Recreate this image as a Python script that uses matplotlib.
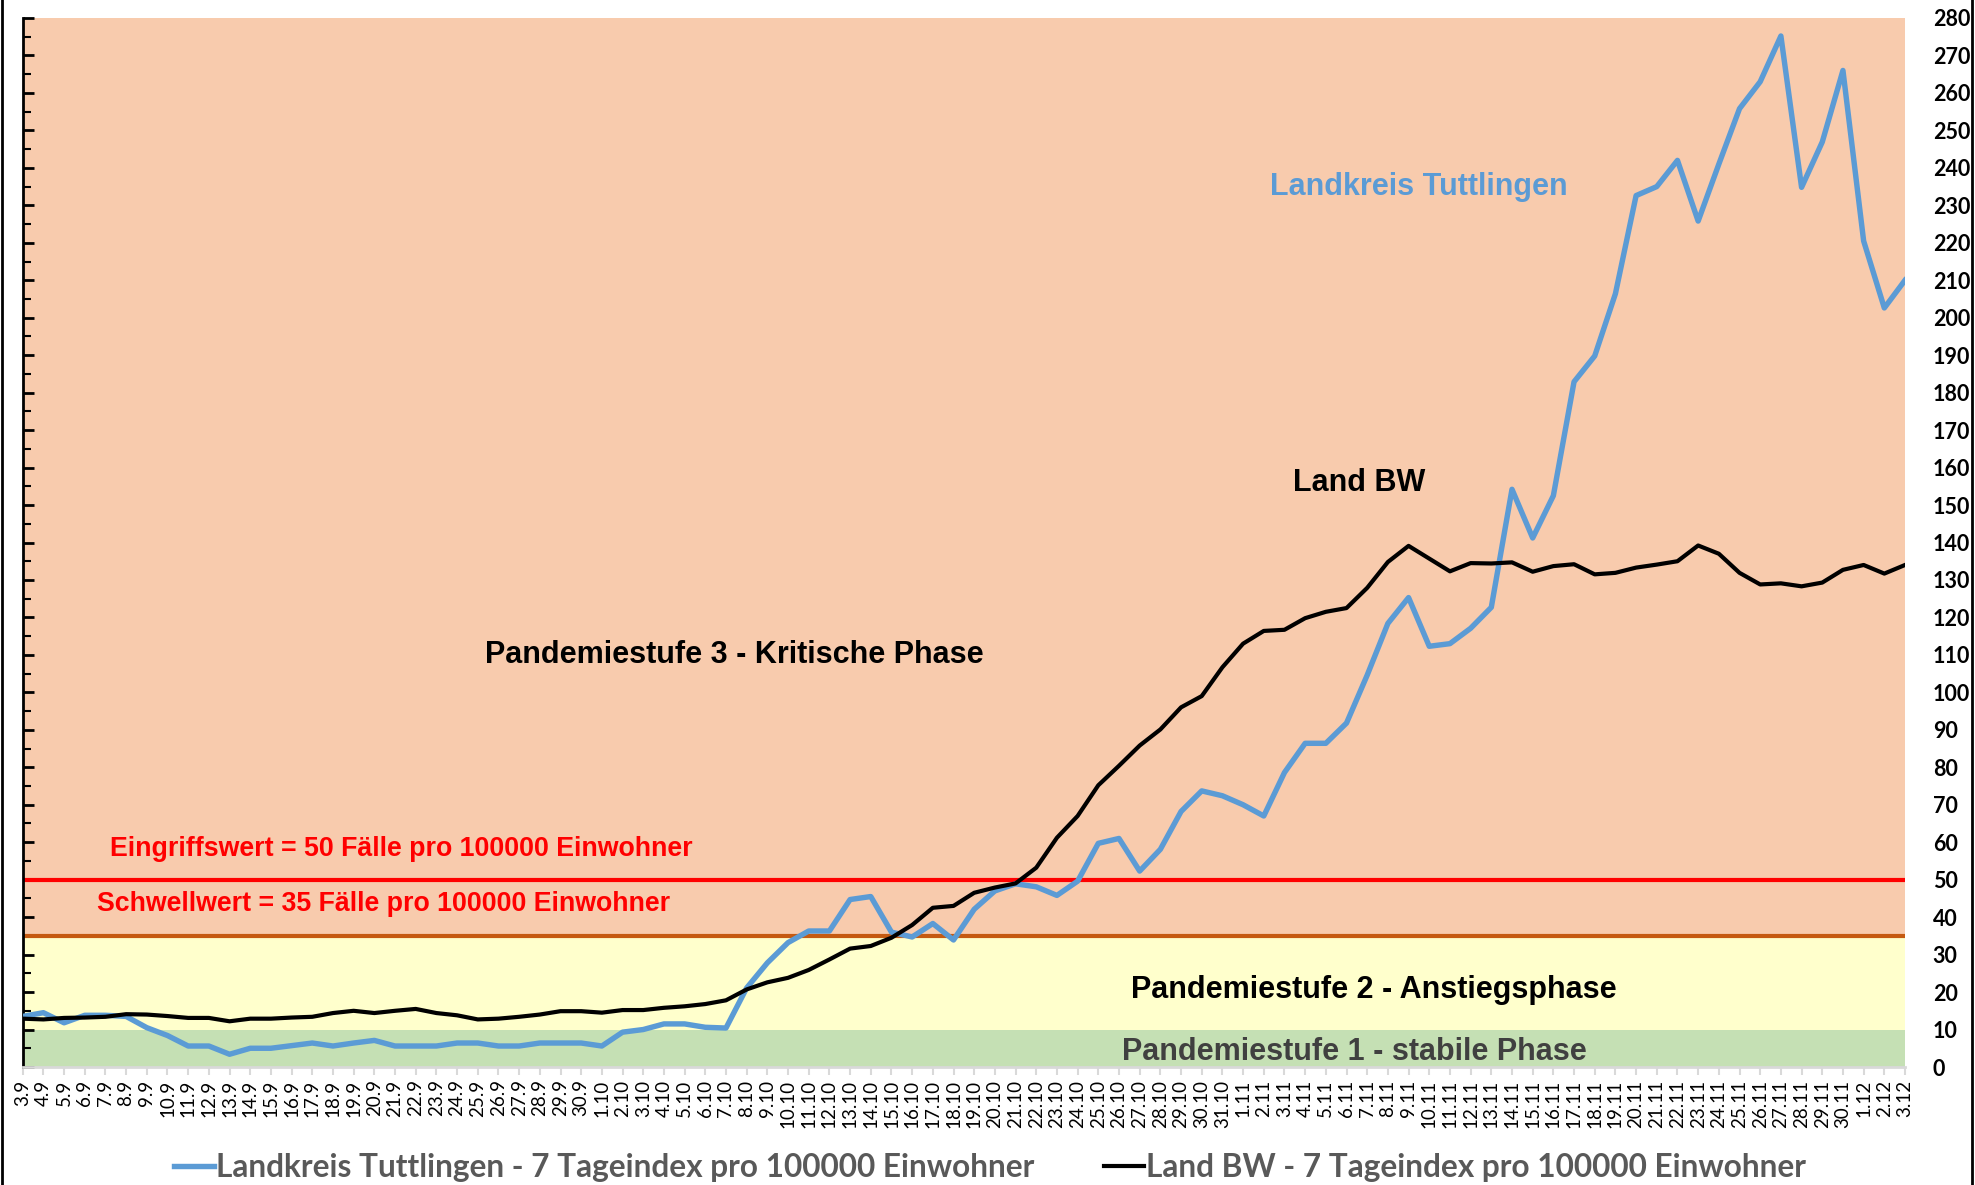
import matplotlib.pyplot as plt
from matplotlib.lines import Line2D
import numpy as np

# x labels: 3.9 ... 3.12 (daily)
month_days = [(9, range(3, 31)), (10, range(1, 32)), (11, range(1, 31)), (12, range(1, 4))]
dates = [f"{d}.{m}" for m, days in month_days for d in days]

tuttlingen = [13.5, 14.5, 11.8, 13.8, 13.8, 13.5, 10.5, 8.4, 5.6, 5.6,
              3.4, 5.0, 5.0, 5.7, 6.4, 5.6, 6.4, 7.1, 5.6, 5.6,
              5.6, 6.4, 6.4, 5.6, 5.6, 6.4, 6.4, 6.4, 5.6, 9.3,
              10.0, 11.5, 11.5, 10.6, 10.4, 21.1, 27.8, 33.2, 36.3, 36.3,
              44.7, 45.5, 36.0, 34.7, 38.3, 33.9, 42.1, 47.0, 48.9, 48.1,
              45.8, 49.6, 59.7, 61.0, 52.3, 58.1, 68.2, 73.7, 72.4, 70.0,
              67.0, 78.6, 86.4, 86.4, 91.8, 104.6, 118.4, 125.3, 112.3, 113.0,
              117.1, 122.7, 154.2, 141.2, 152.5, 182.9, 189.8, 206.4, 232.6, 235.0,
              242.0, 225.8, 241.0, 255.8, 263.0, 275.2, 234.8, 246.9, 266.0, 220.5,
              202.6, 210.0]

land_bw = [12.9, 12.7, 13.1, 13.2, 13.4, 14.1, 14.0, 13.6, 13.1, 13.1,
           12.2, 12.9, 12.9, 13.2, 13.4, 14.4, 15.0, 14.4, 15.0, 15.5,
           14.4, 13.8, 12.7, 12.9, 13.4, 14.0, 14.9, 14.9, 14.5, 15.2,
           15.2, 15.8, 16.2, 16.8, 17.8, 20.7, 22.6, 23.8, 25.9, 28.7,
           31.6, 32.3, 34.5, 37.9, 42.5, 43.0, 46.5, 47.9, 49.0, 53.2,
           61.2, 67.0, 75.2, 80.4, 85.8, 90.1, 96.0, 99.0, 106.7, 113.0,
           116.4, 116.7, 119.8, 121.5, 122.5, 127.9, 134.8, 139.1, 135.7, 132.3,
           134.5, 134.4, 134.7, 132.2, 133.7, 134.2, 131.5, 131.9, 133.3, 134.1,
           135.0, 139.2, 137.0, 131.9, 128.8, 129.1, 128.3, 129.3, 132.7, 134.0,
           131.7, 134.0]

eingriffswert = 50
schwellwert = 35
stufe1_max = 10
y_max = 280

x = np.arange(len(dates))

fig = plt.figure(figsize=(19.75, 11.85), dpi=100)
ax = fig.add_axes([22.7 / 1975, 1 - 1067 / 1185, (1905 - 22.7) / 1975, (1067 - 18) / 1185])

# Pandemiestufen als Hintergrund
ax.axhspan(0, stufe1_max, color="#C5E0B4", zorder=0, lw=0)
ax.axhspan(stufe1_max, schwellwert, color="#FFFFCC", zorder=0, lw=0)
ax.axhspan(schwellwert, y_max, color="#F8CBAD", zorder=0, lw=0)

ax.axhline(eingriffswert, color="#FF0000", lw=3.0, zorder=2)
ax.axhline(schwellwert, color="#C55A11", lw=3.0, zorder=2)

ax.plot(x, tuttlingen, color="#5B9BD5", lw=3.9, zorder=3, solid_joinstyle="round",
        label="Landkreis Tuttlingen - 7 Tageindex pro 100000 Einwohner")
ax.plot(x, land_bw, color="black", lw=3.0, zorder=4, solid_joinstyle="round",
        label="Land BW - 7 Tageindex pro 100000 Einwohner")

ax.set_xlim(0, len(dates) - 1)
ax.set_ylim(0, y_max)

for s in ["top", "right"]:
    ax.spines[s].set_visible(False)
ax.spines["left"].set_color("black")
ax.spines["left"].set_linewidth(2.0)
ax.spines["bottom"].set_color("#D9D9D9")
ax.spines["bottom"].set_linewidth(2.0)

ax.set_xticks(x)
ax.set_xticklabels(dates, rotation=90, fontsize=13.5, family=["Lato", "DejaVu Sans"])
ax.tick_params(axis="x", direction="out", length=6, width=1.5, color="#D9D9D9", pad=3)

ax.set_yticks(np.arange(0, y_max + 1, 10))
ax.set_yticks(np.arange(0, y_max + 1, 5), minor=True)
ax.tick_params(axis="y", which="major", direction="in", length=8, width=2, labelleft=False)
ax.tick_params(axis="y", which="minor", direction="in", length=6, width=1.5)

# Beschriftung rechts
ax2 = ax.twinx()
ax2.set_ylim(0, y_max)
ax2.set_yticks(np.arange(0, y_max + 1, 10))
ax2.tick_params(axis="y", length=0, pad=20)
for lab in ax2.get_yticklabels():
    lab.set_fontsize(15.5)
    lab.set_fontweight("bold")
    lab.set_family(["Lato", "DejaVu Sans"])
for s in ax2.spines.values():
    s.set_visible(False)

txt = dict(family=["Liberation Sans", "DejaVu Sans"], fontweight="bold", fontsize=22)
ax.text(67.5, 235, "Landkreis Tuttlingen", color="#5B9BD5", ha="center", va="center", **txt)
ax.text(64.6, 156, "Land BW", color="black", ha="center", va="center", **txt)
ax.text(34.4, 110, "Pandemiestufe 3 - Kritische Phase", color="black", ha="center", va="center", **txt)
ax.text(65.3, 20.5, "Pandemiestufe 2 - Anstiegsphase", color="black", ha="center", va="center", **txt)
ax.text(64.4, 4.0, "Pandemiestufe 1 - stabile Phase", color="#404040", ha="center", va="center", **txt)
red = dict(family=["Liberation Sans", "DejaVu Sans"], fontweight="bold", fontsize=19.3, color="#FF0000")
ax.text(4.22, 58.1, "Eingriffswert = 50 Fälle pro 100000 Einwohner", ha="left", va="center", **red)
ax.text(3.59, 43.4, "Schwellwert = 35 Fälle pro 100000 Einwohner", ha="left", va="center", **red)

handles, labels = ax.get_legend_handles_labels()
leg = fig.legend(handles, labels, loc="center", bbox_to_anchor=(0.5013, 1 - 1168 / 1185),
                 ncol=2, frameon=False, handlelength=1.26, handletextpad=0.06,
                 columnspacing=2.2, prop={"family": ["Lato", "DejaVu Sans"], "weight": "bold", "size": 22.8})
for t in leg.get_texts():
    t.set_color("#595959")

# Rahmen links und rechts
fig.add_artist(Line2D([1.5 / 1975, 1.5 / 1975], [0, 1], color="black", lw=2, transform=fig.transFigure))
fig.add_artist(Line2D([1972 / 1975, 1972 / 1975], [0, 1], color="black", lw=2, transform=fig.transFigure))

fig.savefig("out.png", dpi=100)
